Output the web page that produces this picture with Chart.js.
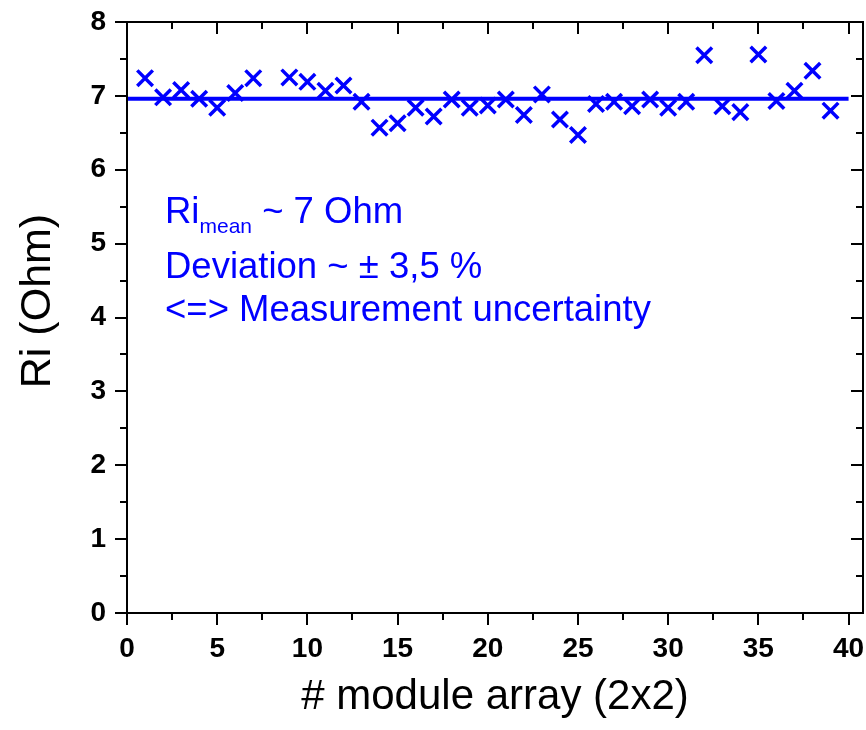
<!DOCTYPE html>
<html>
<head>
<meta charset="utf-8">
<script src="https://cdn.jsdelivr.net/npm/chart.js@4.4.1/dist/chart.umd.min.js"></script>
<style>
    html, body { margin: 0; padding: 0; background: #fff; }
    #wrap { width: 866px; height: 730px; }
</style>
</head>
<body>
<div id="wrap"><canvas id="ri-chart" width="866" height="730"></canvas></div>
<script>
/* ── Measured data ── */
// module array index (2x2), no value for #8
var moduleIds = [1, 2, 3, 4, 5, 6, 7, 9, 10, 11, 12, 13, 14, 15, 16, 17, 18, 19, 20,
                 21, 22, 23, 24, 25, 26, 27, 28, 29, 30, 31, 32, 33, 34, 35, 36, 37, 38, 39];
var riValues  = [7.24, 6.98, 7.08, 6.96, 6.84, 7.04, 7.24, 7.25, 7.19, 7.07, 7.14, 6.92, 6.57, 6.63, 6.84, 6.72, 6.95, 6.84, 6.87,
                 6.95, 6.74, 7.02, 6.68, 6.47, 6.89, 6.92, 6.86, 6.95, 6.84, 6.92, 7.55, 6.86, 6.78, 7.56, 6.93, 7.07, 7.34, 6.80];

// mean resistance line
var meanX = [0, 40];
var meanY = [6.96, 6.96];

/* ── Axis ticks ── */
var xMajorTicks = [0, 5, 10, 15, 20, 25, 30, 35, 40];
var xMinorTicks = [2.5, 7.5, 12.5, 17.5, 22.5, 27.5, 32.5, 37.5];
var yMajorTicks = [0, 1, 2, 3, 4, 5, 6, 7, 8];
var yMinorTicks = [0.5, 1.5, 2.5, 3.5, 4.5, 5.5, 6.5, 7.5];

var FONT = '"Liberation Sans", Arial, Helvetica, sans-serif';
var BLUE = '#0000ff';

var riPoints = moduleIds.map(function (id, i) { return { x: id, y: riValues[i] }; });
var meanPoints = meanX.map(function (x, i) { return { x: x, y: meanY[i] }; });

// frame + Origin style tick marks (out on bottom/left, in on top/right)
var frameTicks = {
    id: 'frameTicks',
    afterDraw: function (chart) {
        var ctx = chart.ctx, a = chart.chartArea;
        var xs = chart.scales.x, ys = chart.scales.y;
        ctx.save();
        ctx.strokeStyle = '#000';
        ctx.lineWidth = 2;
        ctx.lineCap = 'butt';
        function seg(x1, y1, x2, y2) {
            ctx.beginPath(); ctx.moveTo(x1, y1); ctx.lineTo(x2, y2); ctx.stroke();
        }
        ctx.strokeRect(a.left, a.top, a.right - a.left, a.bottom - a.top);
        xMajorTicks.forEach(function (v) {
            var px = Math.round(xs.getPixelForValue(v));
            seg(px, a.bottom, px, a.bottom + 12);
            seg(px, a.top, px, a.top + 12);
        });
        xMinorTicks.forEach(function (v) {
            var px = Math.round(xs.getPixelForValue(v));
            seg(px, a.bottom, px, a.bottom + 7);
            seg(px, a.top, px, a.top + 7);
        });
        yMajorTicks.forEach(function (v) {
            var py = Math.round(ys.getPixelForValue(v));
            seg(a.left - 12, py, a.left, py);
            seg(a.right - 12, py, a.right, py);
        });
        yMinorTicks.forEach(function (v) {
            var py = Math.round(ys.getPixelForValue(v));
            seg(a.left - 7, py, a.left, py);
            seg(a.right - 7, py, a.right, py);
        });

        // y axis title, drawn by hand so it sits where the original does
        ctx.fillStyle = '#000';
        ctx.font = '43px ' + FONT;
        ctx.textAlign = 'center';
        ctx.textBaseline = 'alphabetic';
        ctx.translate(50, 301);
        ctx.rotate(-Math.PI / 2);
        ctx.fillText('Ri (Ohm)', 0, 0);
        ctx.restore();

        // annotation block
        ctx.save();
        ctx.fillStyle = BLUE;
        ctx.textAlign = 'left';
        ctx.textBaseline = 'alphabetic';
        var x0 = 165;
        ctx.font = '36.5px ' + FONT;
        ctx.fillText('Ri', x0, 223);
        var w = ctx.measureText('Ri').width;
        ctx.font = '21px ' + FONT;
        ctx.fillText('mean', x0 + w, 233);
        var w2 = ctx.measureText('mean').width;
        ctx.font = '36.5px ' + FONT;
        ctx.fillText(' ~ 7 Ohm', x0 + w + w2, 223);
        ctx.fillText('Deviation ~ \u00b1 3,5 %', x0, 278);
        ctx.fillText('<=> Measurement uncertainty', x0, 321);
        ctx.restore();
    }
};

new Chart(document.getElementById('ri-chart'), {
    type: 'scatter',
    data: {
        datasets: [
            {
                label: 'Ri',
                data: riPoints,
                pointStyle: 'crossRot',
                pointRadius: 11,
                pointBorderWidth: 3.5,
                pointBorderColor: BLUE,
                pointBackgroundColor: BLUE,
                showLine: false
            },
            {
                label: 'Ri mean',
                type: 'line',
                data: meanPoints,
                borderColor: BLUE,
                borderWidth: 4,
                pointRadius: 0,
                fill: false
            }
        ]
    },
    options: {
        responsive: false,
        animation: false,
        devicePixelRatio: 1,
        layout: { autoPadding: false, padding: { top: 22, right: 3, left: 0, bottom: 0 } },
        plugins: { legend: { display: false }, tooltip: { enabled: false } },
        scales: {
            x: {
                type: 'linear',
                min: 0,
                max: 40.8,
                grid: { display: false, drawTicks: false },
                border: { display: false },
                afterBuildTicks: function (scale) {
                    scale.ticks = xMajorTicks.map(function (v) { return { value: v }; });
                },
                afterFit: function (scale) {
                    scale.height = 117;
                    scale.paddingLeft = 0;
                    scale.paddingRight = 0;
                },
                ticks: {
                    color: '#000',
                    padding: 19,
                    maxRotation: 0,
                    font: { family: FONT, size: 28, weight: 'bold' }
                },
                title: {
                    display: true,
                    text: '# module array (2x2)',
                    color: '#000',
                    padding: { top: 0, bottom: 7 },
                    font: { family: FONT, size: 42 }
                }
            },
            y: {
                type: 'linear',
                min: 0,
                max: 8,
                grid: { display: false, drawTicks: false },
                border: { display: false },
                afterBuildTicks: function (scale) {
                    scale.ticks = yMajorTicks.map(function (v) { return { value: v }; });
                },
                afterFit: function (scale) {
                    scale.width = 127;
                    scale.paddingTop = 0;
                    scale.paddingBottom = 0;
                },
                ticks: {
                    color: '#000',
                    padding: 21,
                    font: { family: FONT, size: 28, weight: 'bold' }
                }
            }
        }
    },
    plugins: [frameTicks]
});
</script>
</body>
</html>
